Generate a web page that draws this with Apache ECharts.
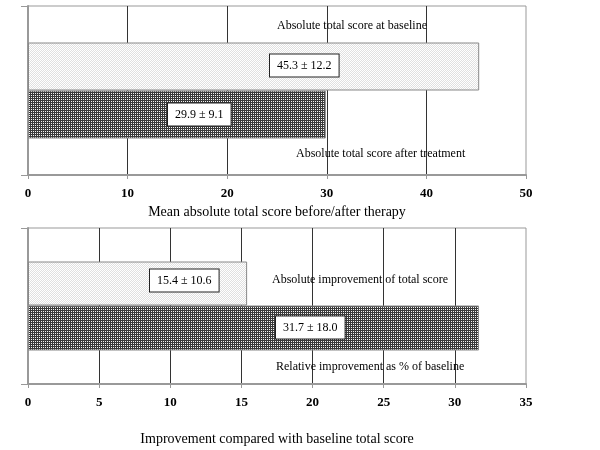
<!DOCTYPE html>
<html><head><meta charset="utf-8">
<script src="https://cdn.jsdelivr.net/npm/echarts@6/dist/echarts.min.js"></script>
<style>html,body{margin:0;padding:0;background:#fff}#c{width:600px;height:450px}</style>
</head><body><div id="c"></div>
<script>
// Data
const topCategories = ['Absolute total score at baseline', 'Absolute total score after treatment'];
const topMeans = [45.3, 29.9];
const topSDs = [12.2, 9.1];
const topTicks = [0, 10, 20, 30, 40, 50];
const topAxisTitle = 'Mean absolute total score before/after therapy';

const botCategories = ['Absolute improvement of total score', 'Relative improvement as % of baseline'];
const botMeans = [15.4, 31.7];
const botSDs = [10.6, 18.0];
const botTicks = [0, 5, 10, 15, 20, 25, 30, 35];
const botAxisTitle = 'Improvement compared with baseline total score';

function pattern(dark) {
  const c = document.createElement('canvas');
  c.width = 2; c.height = 2;
  const g = c.getContext('2d');
  if (dark) {
    g.fillStyle = '#3a3a3a'; g.fillRect(0, 0, 2, 2);
    g.fillStyle = '#f4f4f4'; g.fillRect(1, 1, 1, 1);
  } else {
    g.fillStyle = '#ffffff'; g.fillRect(0, 0, 2, 2);
    g.fillStyle = '#e0e0e0'; g.fillRect(1, 0, 1, 1); g.fillRect(0, 1, 1, 1);
  }
  return { image: c, repeat: 'repeat' };
}
const darkFill = pattern(true);
const lightFill = pattern(false);

const serif = '"Liberation Serif", "DejaVu Serif", serif';
const boxLabel = {
  show: true, align: 'left', verticalAlign: 'middle',
  fontFamily: serif, fontSize: 12, color: '#000',
  backgroundColor: '#fff', borderColor: '#222', borderWidth: 1, padding: [5, 7, 5, 7]
};
function fmt(m, s) { return m.toFixed(1) + ' \u00B1 ' + s.toFixed(1); }

function xAxisCfg(gridIndex, ticks, name, nameGap) {
  return {
    type: 'value', gridIndex, min: ticks[0], max: ticks[ticks.length - 1],
    interval: ticks[1] - ticks[0],
    name, nameLocation: 'middle', nameGap,
    nameTextStyle: { fontFamily: serif, fontSize: 14, color: '#000' },
    axisLine: { show: true, lineStyle: { color: '#999', width: 2 } },
    axisTick: { show: true, length: 4, lineStyle: { color: '#999', width: 1 } },
    axisLabel: { fontFamily: serif, fontSize: 13, fontWeight: 'bold', color: '#000', margin: 12 },
    splitLine: { show: true, showMinLine: false, showMaxLine: false, lineStyle: { color: '#333', width: 1 } }
  };
}
function yAxisCfg(gridIndex) {
  return {
    type: 'category', gridIndex, data: ['x'],
    axisLine: { show: true, lineStyle: { color: '#999', width: 2 } },
    axisTick: { show: true, length: 7, lineStyle: { color: '#999', width: 1 } },
    axisLabel: { show: false }, splitLine: { show: false }
  };
}
function barSeries(idx, mean, sd, fill, barW, labelPos) {
  return {
    type: 'bar', xAxisIndex: idx, yAxisIndex: idx, data: [mean],
    barWidth: barW, barGap: '0%',
    itemStyle: { color: fill, borderColor: '#888', borderWidth: 1 },
    label: Object.assign({}, boxLabel, { position: labelPos, formatter: () => fmt(mean, sd) }),
    silent: true, animation: false
  };
}
const txt = (x, y, t) => ({ type: 'text', left: x, top: y, z: 100, style: { text: t, font: '12px ' + serif, fill: '#000' } });

const chart = echarts.init(document.getElementById('c'), null, { renderer: 'canvas' });
chart.setOption({
  backgroundColor: '#fff',
  animation: false,
  grid: [
    { left: 28, right: 74, top: 6, height: 169, show: true, borderColor: '#999', borderWidth: 1, containLabel: false },
    { left: 28, right: 74, top: 228, height: 156, show: true, borderColor: '#999', borderWidth: 1, containLabel: false }
  ],
  xAxis: [xAxisCfg(0, topTicks, topAxisTitle, 30), xAxisCfg(1, botTicks, botAxisTitle, 48)],
  yAxis: [yAxisCfg(0), yAxisCfg(1)],
  series: [
    barSeries(0, topMeans[0], topSDs[0], lightFill, 48, [242, 23]),
    barSeries(0, topMeans[1], topSDs[1], darkFill, 48, [140, 24]),
    barSeries(1, botMeans[0], botSDs[0], lightFill, 44, [122, 19]),
    barSeries(1, botMeans[1], botSDs[1], darkFill, 45, [248, 22])
  ],
  graphic: [
    txt(277, 20, topCategories[0]),
    txt(296, 148, topCategories[1]),
    txt(272, 274, botCategories[0]),
    txt(276, 361, botCategories[1])
  ]
});
</script></body></html>
